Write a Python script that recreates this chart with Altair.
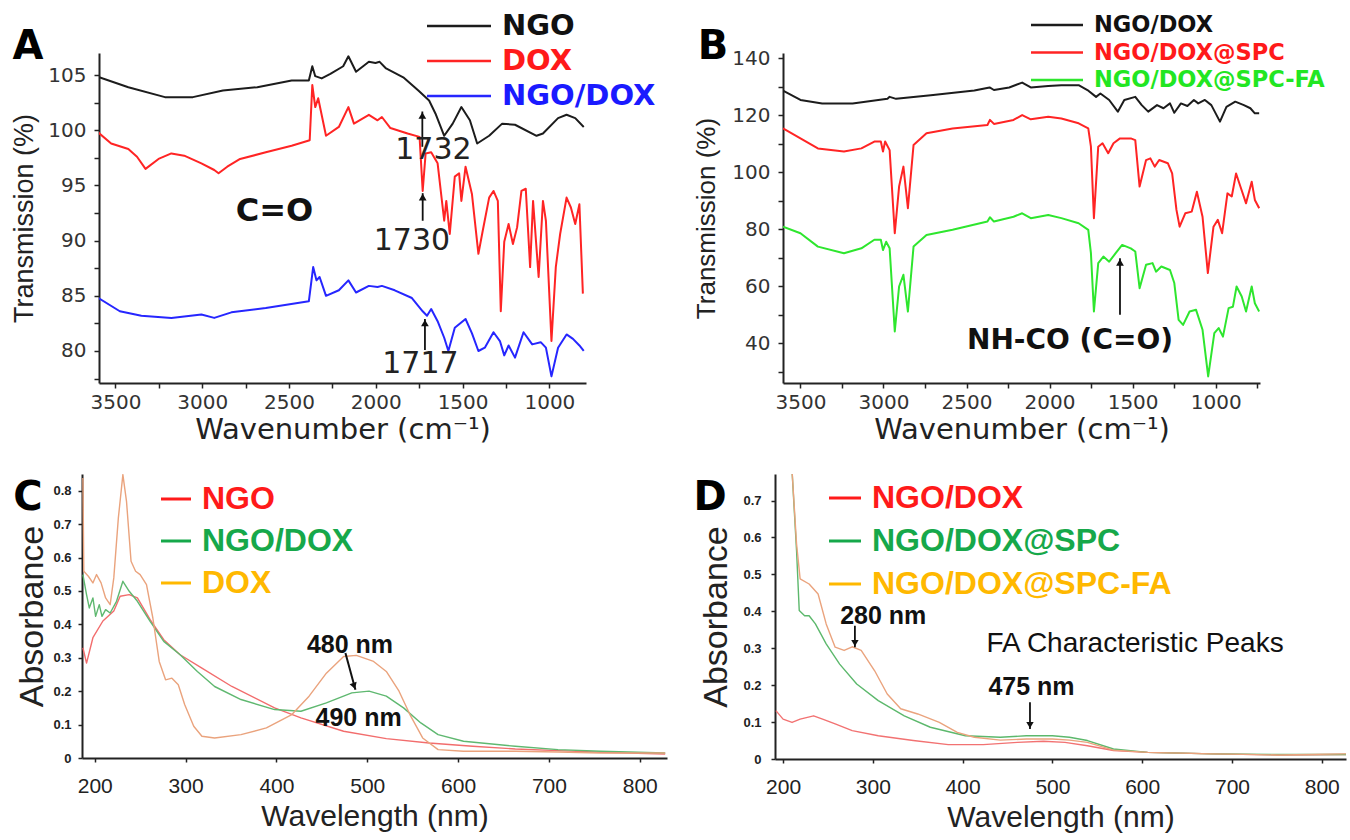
import altair as alt
import pandas as pd

# ---------------- Panel A : FTIR, NGO / DOX / NGO-DOX ----------------
A_NGO_WN = [3594, 3426, 3215, 3054, 2881, 2683, 2485, 2386, 2366, 2349, 2312, 2262, 2188, 2158, 2114,
            2040, 2002, 1978, 1941, 1842, 1755, 1693, 1656, 1606, 1557, 1507, 1458, 1416, 1347, 1272,
            1198, 1074, 1037, 950, 901, 851, 802]
A_NGO_T = [104.8, 103.9, 103.0, 103.0, 103.6, 103.9, 104.5, 104.5, 105.8, 104.9, 104.7, 105.1, 105.8, 106.7, 105.3,
           106.2, 106.1, 106.2, 105.6, 104.8, 103.6, 102.7, 101.5, 99.5, 100.6, 102.1, 100.9, 98.8, 99.5, 100.6,
           100.5, 99.5, 99.7, 101.1, 101.4, 101.1, 100.3]

A_DOX_WN = [3599, 3525, 3426, 3376, 3327, 3252, 3178, 3104, 3005, 2931, 2906, 2856, 2782, 2634, 2485,
            2381, 2366, 2349, 2332, 2287, 2213, 2158, 2126, 2040, 1990, 1965, 1916, 1817, 1748, 1730,
            1713, 1681, 1644, 1606, 1594, 1574, 1545, 1520, 1507, 1483, 1446, 1409, 1384, 1347, 1322,
            1297, 1280, 1260, 1235, 1210, 1186, 1161, 1136, 1111, 1094, 1062, 1037, 1020, 988, 963,
            938, 901, 876, 851, 827, 807]
A_DOX_T = [99.8, 98.8, 98.3, 97.6, 96.5, 97.4, 97.9, 97.7, 97.0, 96.4, 96.1, 96.7, 97.4, 98.0, 98.6,
           99.1, 104.1, 102.1, 102.9, 99.5, 100.3, 102.1, 100.6, 101.4, 100.9, 101.2, 100.2, 99.7, 99.4, 94.5,
           97.9, 98.0, 97.0, 91.8, 93.6, 90.6, 95.8, 96.1, 93.6, 96.7, 94.2, 88.8, 90.9, 93.9, 94.5,
           93.6, 83.6, 89.9, 91.5, 89.7, 91.2, 94.5, 94.7, 87.6, 93.6, 86.7, 93.6, 91.8, 80.9, 87.6,
           90.6, 93.9, 93.0, 91.5, 93.3, 85.2]

A_MIX_WN = [3599, 3475, 3351, 3178, 3005, 2931, 2832, 2634, 2386, 2361, 2342, 2324, 2287, 2213, 2158,
            2114, 2040, 1990, 1965, 1891, 1792, 1730, 1705, 1681, 1644, 1606, 1582, 1545, 1483, 1446,
            1409, 1372, 1322, 1285, 1260, 1235, 1198, 1149, 1099, 1050, 1020, 988, 950, 901, 864,
            827, 802]
A_MIX_T = [84.8, 83.6, 83.2, 83.0, 83.3, 83.0, 83.5, 83.9, 84.5, 87.6, 86.4, 86.7, 85.0, 85.5, 86.4,
           85.3, 85.9, 85.8, 85.9, 85.5, 84.8, 83.6, 83.2, 83.8, 82.7, 81.2, 80.0, 82.1, 82.9, 81.6,
           80.0, 80.3, 81.7, 80.9, 79.6, 80.5, 79.4, 81.7, 80.6, 80.8, 80.3, 77.7, 80.3, 81.5, 81.1,
           80.5, 80.0]

A_NAMES = ["NGO", "DOX", "NGO/DOX"]
A_COLORS = ["#1c1c1c", "#ff2424", "#2626ff"]
A_TEXT_COLORS = ["#111111", "#ff1a1a", "#1a1aff"]
A_XTICKS = [3500, 3250, 3000, 2750, 2500, 2250, 2000, 1750, 1500, 1250, 1000]
A_YTICKS = [77.5, 80, 82.5, 85, 87.5, 90, 92.5, 95, 97.5, 100, 102.5, 105]
A_PEAKS = [1732, 1730, 1717]

# ---------------- Panel B : FTIR, coated conjugates ----------------
B_MIX_WN = [3605, 3500, 3369, 3186, 2976, 2963, 2924, 2715, 2453, 2361, 2335, 2243, 2165, 2113, 2008,
            1929, 1825, 1772, 1720, 1694, 1641, 1589, 1550, 1484, 1445, 1406, 1353, 1314, 1275, 1249,
            1209, 1170, 1131, 1105, 1065, 1026, 974, 935, 882, 830, 791, 764, 738]
B_MIX_T = [128.7, 125.4, 124.2, 124.2, 125.8, 126.5, 125.8, 127.1, 128.7, 129.8, 128.9, 129.8, 131.5, 129.8, 130.3,
           130.6, 130.6, 128.9, 126.5, 127.7, 125.4, 121.3, 125.4, 126.5, 123.6, 121.3, 123.6, 122.5, 124.2, 120.9,
           124.2, 123.3, 125.4, 124.2, 125.4, 123.6, 117.8, 123.0, 124.8, 123.6, 122.5, 120.7, 120.7]

B_SPC_WN = [3605, 3500, 3395, 3238, 3133, 3055, 3016, 3003, 2990, 2963, 2932, 2906, 2880, 2853, 2819,
            2741, 2584, 2374, 2359, 2335, 2217, 2165, 2113, 2008, 1929, 1825, 1767, 1751, 1733, 1707,
            1681, 1647, 1615, 1576, 1511, 1484, 1458, 1419, 1393, 1367, 1340, 1288, 1262, 1236, 1217,
            1183, 1144, 1113, 1079, 1047, 1013, 987, 961, 929, 903, 877, 851, 817, 783, 764, 738]
B_SPC_T = [115.4, 111.9, 108.4, 107.3, 108.4, 110.8, 110.8, 107.3, 110.8, 107.8, 78.6, 95.0, 102.0, 87.4, 109.6,
           113.7, 115.4, 116.6, 118.4, 117.0, 118.4, 120.1, 118.6, 119.5, 118.9, 117.2, 115.4, 109.0, 83.9, 109.0,
           110.2, 106.7, 110.2, 111.9, 111.9, 111.3, 95.0, 104.3, 104.9, 102.0, 104.3, 103.2, 99.6, 86.8, 80.9,
           85.6, 86.2, 93.2, 84.4, 64.6, 80.9, 83.3, 78.6, 92.6, 91.5, 99.6, 95.0, 89.1, 96.7, 90.3, 87.4]

B_FA_WN = [3605, 3500, 3395, 3238, 3133, 3055, 3016, 3003, 2984, 2963, 2932, 2906, 2880, 2853, 2819,
           2741, 2584, 2374, 2359, 2335, 2217, 2165, 2113, 2008, 1929, 1825, 1767, 1751, 1733, 1707,
           1676, 1641, 1602, 1563, 1511, 1484, 1458, 1419, 1380, 1359, 1327, 1275, 1249, 1223, 1196,
           1157, 1118, 1079, 1045, 1008, 982, 956, 922, 896, 874, 843, 817, 783, 764, 738]
B_FA_T = [80.9, 78.6, 73.9, 71.6, 73.3, 76.3, 76.3, 72.7, 75.6, 73.3, 44.1, 59.9, 64.0, 51.1, 73.9,
          78.0, 79.8, 82.7, 84.2, 82.7, 84.4, 85.6, 83.9, 85.0, 83.9, 82.1, 79.8, 71.6, 51.1, 68.1,
          70.4, 68.6, 71.6, 74.5, 73.3, 72.2, 59.3, 67.5, 68.1, 65.1, 66.9, 65.7, 61.1, 48.2, 46.4,
          51.1, 51.7, 44.7, 28.3, 43.5, 45.3, 42.3, 52.3, 52.8, 59.9, 56.4, 51.1, 59.9, 54.0, 51.1]

B_NAMES = ["NGO/DOX", "NGO/DOX@SPC", "NGO/DOX@SPC-FA"]
B_COLORS = ["#1c1c1c", "#ff2424", "#2ee62e"]
B_TEXT_COLORS = ["#111111", "#ff1a1a", "#22e622"]
B_XTICKS = [3500, 3250, 3000, 2750, 2500, 2250, 2000, 1750, 1500, 1250, 1000, 750]
B_YTICKS = [30, 40, 50, 60, 70, 80, 90, 100, 110, 120, 130, 140]
B_AMIDE = 1576

# ---------------- Panel C : UV-vis, NGO / NGO-DOX / DOX ----------------
C_NGO_WL = [187, 191, 198, 209, 221, 228, 238, 247, 261, 276, 294, 318, 351, 398, 427, 474, 521, 568, 616,
            663, 710, 757, 828]
C_NGO_A = [0.33, 0.284, 0.36, 0.41, 0.44, 0.484, 0.489, 0.479, 0.414, 0.354, 0.309, 0.269, 0.214, 0.150,
           0.120, 0.080, 0.058, 0.045, 0.035, 0.027, 0.022, 0.017, 0.012]

C_MIX_WL = [187, 191, 194, 198, 201, 205, 208, 212, 217, 224, 231, 238, 247, 261, 276, 294, 313, 332, 361,
            398, 427, 455, 483, 502, 521, 540, 559, 578, 606, 663, 710, 757, 828]
C_MIX_A = [0.549, 0.489, 0.449, 0.479, 0.424, 0.459, 0.424, 0.444, 0.434, 0.469, 0.529, 0.499, 0.469, 0.409,
           0.349, 0.309, 0.259, 0.214, 0.175, 0.145, 0.140, 0.165, 0.195, 0.200, 0.185, 0.150, 0.105, 0.070,
           0.050, 0.035, 0.025, 0.020, 0.015]

C_DOX_WL = [187, 188, 193, 198, 202, 207, 212, 217, 221, 226, 231, 235, 240, 245, 250, 257, 264, 271, 278,
            285, 292, 299, 309, 318, 332, 361, 389, 417, 436, 455, 474, 488, 507, 521, 535, 547, 561, 578,
            606, 663, 710, 757, 828]
C_DOX_A = [0.838, 0.559, 0.544, 0.524, 0.549, 0.524, 0.479, 0.459, 0.539, 0.718, 0.848, 0.768, 0.589, 0.559,
           0.549, 0.519, 0.419, 0.289, 0.234, 0.239, 0.219, 0.160, 0.095, 0.065, 0.060, 0.070, 0.090, 0.130,
           0.185, 0.254, 0.304, 0.307, 0.289, 0.259, 0.200, 0.130, 0.060, 0.025, 0.020, 0.020, 0.018, 0.015,
           0.015]

C_NAMES = ["NGO", "NGO/DOX", "DOX"]
C_COLORS = ["#f26d6d", "#5fb870", "#eaa37d"]
C_TEXT_COLORS = ["#ff1a1a", "#16a84a", "#ffb800"]
C_XTICKS = [200, 300, 400, 500, 600, 700, 800]
C_YTICKS = [0, 0.1, 0.2, 0.3, 0.4, 0.5, 0.6, 0.7, 0.8]
C_PEAK_DOX = 480
C_PEAK_MIX = 490

# ---------------- Panel D : UV-vis, coated conjugates ----------------
D_MIX_WL = [192, 200, 210, 219, 234, 244, 258, 277, 306, 345, 384, 423, 461, 490, 514, 539, 568, 606, 679,
            752, 827]
D_MIX_A = [0.131, 0.108, 0.099, 0.108, 0.117, 0.108, 0.095, 0.077, 0.063, 0.050, 0.039, 0.039, 0.045, 0.048,
           0.045, 0.036, 0.023, 0.018, 0.014, 0.011, 0.012]

D_SPC_WL = [210, 215, 218, 224, 229, 236, 248, 263, 282, 306, 335, 364, 403, 442, 471, 500, 519, 539, 568,
            606, 679, 752, 827]
D_SPC_A = [0.78, 0.565, 0.402, 0.388, 0.388, 0.366, 0.312, 0.257, 0.203, 0.158, 0.117, 0.086, 0.063, 0.059,
           0.063, 0.063, 0.059, 0.050, 0.027, 0.018, 0.014, 0.012, 0.012]

D_FA_WL = [210, 215, 219, 229, 239, 248, 258, 268, 277, 287, 302, 316, 331, 350, 374, 394, 413, 442, 471,
           500, 519, 539, 568, 606, 679, 752, 827]
D_FA_A = [0.78, 0.583, 0.488, 0.474, 0.447, 0.366, 0.303, 0.294, 0.304, 0.294, 0.239, 0.176, 0.136, 0.122,
          0.099, 0.072, 0.059, 0.051, 0.054, 0.054, 0.051, 0.045, 0.024, 0.018, 0.014, 0.011, 0.014]

D_NAMES = ["NGO/DOX", "NGO/DOX@SPC", "NGO/DOX@SPC-FA"]
D_COLORS = ["#f27272", "#5cb86c", "#eaa37d"]
D_TEXT_COLORS = ["#ff1a1a", "#16a84a", "#ffb800"]
D_XTICKS = [200, 300, 400, 500, 600, 700, 800]
D_YTICKS = [0, 0.1, 0.2, 0.3, 0.4, 0.5, 0.6, 0.7]
D_PEAK_FA1 = 280
D_PEAK_FA2 = 475

ONE = pd.DataFrame({"k": [0]})


def curves(names, colors, xs_list, ys_list, xs, ys, xaxis, yaxis, width):
    """One line layer per series, each with its own fixed colour."""
    out = []
    for name, color, xv, yv in zip(names, colors, xs_list, ys_list):
        df = pd.DataFrame({"x": xv, "y": yv, "series": name})
        out.append(alt.Chart(df).mark_line(color=color, strokeWidth=width, clip=True, strokeJoin="round").encode(
            x=alt.X("x:Q", scale=xs, axis=xaxis),
            y=alt.Y("y:Q", scale=ys, axis=yaxis),
        ))
    return out


def ptext(txt, x, y, size, color, font, weight="normal", align="left"):
    """Text placed in pixel space relative to the panel's plot area."""
    return alt.Chart(ONE).mark_text(text=txt, align=align, baseline="middle", font=font, fontSize=size,
                                    fontWeight=weight, color=color).encode(x=alt.value(x), y=alt.value(y))


def prule(x1, x2, y, color, width):
    return alt.Chart(ONE).mark_rule(color=color, strokeWidth=width).encode(
        x=alt.value(x1), x2=alt.value(x2), y=alt.value(y))


def dtext(txt, xv, yv, xs, ys, xaxis, yaxis, size, font, weight="normal", color="#222222"):
    """Text anchored at data coordinates."""
    return alt.Chart(ONE).mark_text(text=txt, align="center", baseline="middle", font=font, fontSize=size,
                                    fontWeight=weight, color=color).encode(
        x=alt.XDatum(xv, scale=xs, axis=xaxis), y=alt.YDatum(yv, scale=ys, axis=yaxis))


def arrow(x0, y0, x1, y1, xs, ys, xaxis, yaxis, angle, dx, dy, width=1.8, size=60):
    """Arrow from (x0, y0) to the tip (x1, y1), in data coordinates."""
    shaft = alt.Chart(ONE).mark_rule(color="#111111", strokeWidth=width).encode(
        x=alt.XDatum(x0, scale=xs, axis=xaxis), y=alt.YDatum(y0, scale=ys, axis=yaxis),
        x2=alt.X2Datum(x1), y2=alt.Y2Datum(y1))
    head = alt.Chart(ONE).mark_point(shape="triangle-up", filled=True, color="#111111", opacity=1,
                                     size=size, angle=angle, xOffset=dx, yOffset=dy).encode(
        x=alt.XDatum(x1, scale=xs, axis=xaxis), y=alt.YDatum(y1, scale=ys, axis=yaxis))
    return [shaft, head]


def spacer(w, h, marker_y=None):
    """Empty cell; an optional white hairline fixes the row's extent."""
    base = alt.Chart(ONE).mark_point(opacity=0).encode(x=alt.value(0), y=alt.value(0))
    if marker_y is None:
        return base.properties(width=w, height=h)
    mark = alt.Chart(ONE).mark_rule(color="white", strokeWidth=1).encode(
        x=alt.value(0), x2=alt.value(2), y=alt.value(marker_y))
    return alt.layer(base, mark).properties(width=w, height=h)


IR_AXIS = dict(domainColor="#222222", domainWidth=2, tickColor="#222222", tickWidth=1.5, tickSize=5,
               grid=False, labelFont="DejaVu Sans", labelFontSize=20, labelColor="#333333",
               titleFontWeight="normal", titleColor="#222222", labelFlush=False, labelOverlap=False)
UV_AXIS = dict(domainColor="#222222", domainWidth=2, tickColor="#222222", tickWidth=1.5, tickSize=4,
               grid=False, labelFont="Liberation Sans", labelColor="#222222", labelFlush=False,
               labelOverlap=False, titleFont="Liberation Sans", titleFontWeight="normal", titleColor="#222222")

IR_TITLE_X = "Wavenumber (cm\u207b\u00b9)"

# ---------------- build panel A ----------------
A_W, A_H = 487, 330
xa = alt.Scale(domain=[3595, 789], nice=False, zero=False)
ya = alt.Scale(domain=[77.1, 107.0], nice=False, zero=False)
ax_ax = alt.Axis(values=A_XTICKS, format="d", labelExpr="datum.value % 500 === 0 ? datum.label : ''",
                 title=IR_TITLE_X, titleFont="DejaVu Sans", titleFontSize=29, labelPadding=4,
                 titlePadding=3, **IR_AXIS)
ax_ay = alt.Axis(values=A_YTICKS, format="d", labelExpr="datum.value % 5 === 0 ? datum.label : ''",
                 title="Transmission (%)", titleFont="Liberation Sans", titleFontSize=27, labelPadding=8,
                 titlePadding=9, **IR_AXIS)
layersA = curves(A_NAMES, A_COLORS, [A_NGO_WN, A_DOX_WN, A_MIX_WN], [A_NGO_T, A_DOX_T, A_MIX_T],
                 xa, ya, ax_ax, ax_ay, 2)
for i, (name, lc, tc) in enumerate(zip(A_NAMES, A_COLORS, A_TEXT_COLORS)):
    yy = -27 + 35 * i
    layersA.append(prule(328, 392, yy, lc, 2.5))
    layersA.append(ptext(name, 403, yy, 29, tc, "DejaVu Sans", "bold"))
layersA.append(ptext("A", -71, -6, 40, "#000000", "DejaVu Sans", "bold", "center"))
layersA.append(dtext("C=O", 2584, 92.7, xa, ya, ax_ax, ax_ay, 32, "DejaVu Sans", "bold", "#111111"))
for pk, (y0, y1), (tx, ty) in zip(A_PEAKS, [(98.5, 101.7), (91.8, 94.3), (80.1, 82.9)],
                                  [(1668, 98.2), (1792, 90.0), (1743, 78.8)]):
    layersA += arrow(pk, y0, pk, y1, xa, ya, ax_ax, ax_ay, 0, 0, 4)
    layersA.append(dtext(str(pk), tx, ty, xa, ya, ax_ax, ax_ay, 30, "DejaVu Sans", "normal", "#222222"))
panelA = alt.layer(*layersA).properties(width=A_W, height=A_H)

# ---------------- build panel B ----------------
B_W, B_H = 477, 330
xb = alt.Scale(domain=[3605, 733], nice=False, zero=False)
yb = alt.Scale(domain=[26.0, 141.9], nice=False, zero=False)
ax_bx = alt.Axis(values=B_XTICKS, format="d", labelExpr="datum.value % 500 === 0 ? datum.label : ''",
                 title=IR_TITLE_X, titleFont="DejaVu Sans", titleFontSize=29, labelPadding=4,
                 titlePadding=3, **IR_AXIS)
ax_by = alt.Axis(values=B_YTICKS, format="d", labelExpr="datum.value % 20 === 0 ? datum.label : ''",
                 title="Transmission (%)", titleFont="Liberation Sans", titleFontSize=26, labelPadding=8,
                 titlePadding=12, **IR_AXIS)
layersB = curves(B_NAMES, B_COLORS, [B_MIX_WN, B_SPC_WN, B_FA_WN], [B_MIX_T, B_SPC_T, B_FA_T],
                 xb, yb, ax_bx, ax_by, 2)
for i, (name, lc, tc) in enumerate(zip(B_NAMES, B_COLORS, B_TEXT_COLORS)):
    yy = -28 + 27.5 * i
    layersB.append(prule(248, 300, yy, lc, 2.5))
    layersB.append(ptext(name, 311, yy, 22.5, tc, "DejaVu Sans", "bold"))
layersB.append(ptext("B", -70, -6, 40, "#000000", "DejaVu Sans", "bold", "center"))
layersB += arrow(B_AMIDE, 50.0, B_AMIDE, 69.8, xb, yb, ax_bx, ax_by, 0, 0, 4)
layersB.append(dtext("NH-CO (C=O)", 1877, 40.6, xb, yb, ax_bx, ax_by, 28, "DejaVu Sans", "bold", "#111111"))
panelB = alt.layer(*layersB).properties(width=B_W, height=B_H)

# ---------------- build panel C ----------------
C_W, C_H = 585, 284
xc = alt.Scale(domain=[186, 830], nice=False, zero=False)
yc = alt.Scale(domain=[0, 0.85], nice=False, zero=False)
ax_cx = alt.Axis(values=C_XTICKS, format="d", title="Wavelength (nm)", labelFontSize=21, labelPadding=13,
                 titleFontSize=30, titlePadding=5, **UV_AXIS)
ax_cy = alt.Axis(values=C_YTICKS, labelExpr="datum.value === 0 ? '0' : format(datum.value, '.1f')",
                 title="Absorbance", labelFontSize=13, labelFontWeight="bold", labelPadding=7,
                 titleFontSize=34, titlePadding=3, **UV_AXIS)
layersC = curves(C_NAMES, C_COLORS, [C_NGO_WL, C_MIX_WL, C_DOX_WL], [C_NGO_A, C_MIX_A, C_DOX_A],
                 xc, yc, ax_cx, ax_cy, 1.4)
for i, (name, tc) in enumerate(zip(C_NAMES, C_TEXT_COLORS)):
    yy = 25 + 42 * i
    layersC.append(prule(79, 109, yy, tc, 3))
    layersC.append(ptext(name, 120, yy, 32, tc, "Liberation Sans", "bold"))
layersC.append(ptext("C", -54, 24, 40, "#000000", "DejaVu Sans", "bold", "center"))
layersC.append(prule(0, 2, -12, "white", 1))
layersC.append(dtext(f"{C_PEAK_DOX} nm", 481, 0.339, xc, yc, ax_cx, ax_cy, 25, "Liberation Sans", "bold", "#111111"))
layersC.append(dtext(f"{C_PEAK_MIX} nm", 490.5, 0.12, xc, yc, ax_cx, ax_cy, 25, "Liberation Sans", "bold", "#111111"))
layersC += arrow(476, 0.314, 487, 0.204, xc, yc, ax_cx, ax_cy, 161.5, -1.3, -3.8, 2, 55)
panelC = alt.layer(*layersC).properties(width=C_W, height=C_H)

# ---------------- build panel D ----------------
D_W, D_H = 571, 285
xd = alt.Scale(domain=[191, 827], nice=False, zero=False)
yd = alt.Scale(domain=[0, 0.772], nice=False, zero=False)
ax_dx = alt.Axis(values=D_XTICKS, format="d", title="Wavelength (nm)", labelFontSize=21, labelPadding=13,
                 titleFontSize=30, titlePadding=5, **UV_AXIS)
ax_dy = alt.Axis(values=D_YTICKS, labelExpr="datum.value === 0 ? '0' : format(datum.value, '.1f')",
                 title="Absorbance", labelFontSize=13, labelFontWeight="bold", labelPadding=10,
                 titleFontSize=34, titlePadding=9, **UV_AXIS)
layersD = curves(D_NAMES, D_COLORS, [D_MIX_WL, D_SPC_WL, D_FA_WL], [D_MIX_A, D_SPC_A, D_FA_A],
                 xd, yd, ax_dx, ax_dy, 1.4)
for i, (name, tc) in enumerate(zip(D_NAMES, D_TEXT_COLORS)):
    yy = 24 + 43 * i
    layersD.append(prule(54, 86, yy, tc, 3))
    layersD.append(ptext(name, 97, yy, 32, tc, "Liberation Sans", "bold"))
layersD.append(ptext("D", -65, 24, 40, "#000000", "DejaVu Sans", "bold", "center"))
layersD.append(dtext(f"{D_PEAK_FA1} nm", 311.6, 0.388, xd, yd, ax_dx, ax_dy, 25, "Liberation Sans", "bold", "#111111"))
layersD += arrow(D_PEAK_FA1, 0.361, D_PEAK_FA1, 0.303, xd, yd, ax_dx, ax_dy, 180, 0, -4, 1.8, 55)
layersD.append(dtext(f"{D_PEAK_FA2} nm", 476.7, 0.194, xd, yd, ax_dx, ax_dy, 25, "Liberation Sans", "bold", "#111111"))
layersD += arrow(D_PEAK_FA2, 0.154, D_PEAK_FA2, 0.081, xd, yd, ax_dx, ax_dy, 180, 0, -4, 1.8, 55)
layersD.append(dtext("FA Characteristic Peaks", 592, 0.312, xd, yd, ax_dx, ax_dy, 28, "Liberation Sans",
                     "normal", "#111111"))
panelD = alt.layer(*layersD).properties(width=D_W, height=D_H)

# ---------------- 2 x 2 arrangement ----------------
# Each row is a flush hconcat (spacers set the horizontal offsets of the plot areas).
top_row = alt.hconcat(spacer(17, 330, marker_y=405), panelA, spacer(197, 330), panelB,
                      spacing=0, bounds="flush")
bottom_row = alt.hconcat(panelC, spacer(108, 284), panelD, spacing=0, bounds="flush")

chart = alt.vconcat(
    top_row, bottom_row, spacing=2,
    padding={"left": 82, "top": 53, "right": 1268, "bottom": 787},
    autosize=alt.AutoSizeParams(type="none"),
    background="white",
).configure_view(stroke=None)

chart.save("out.html", embed_options={"renderer": "svg", "actions": False})
